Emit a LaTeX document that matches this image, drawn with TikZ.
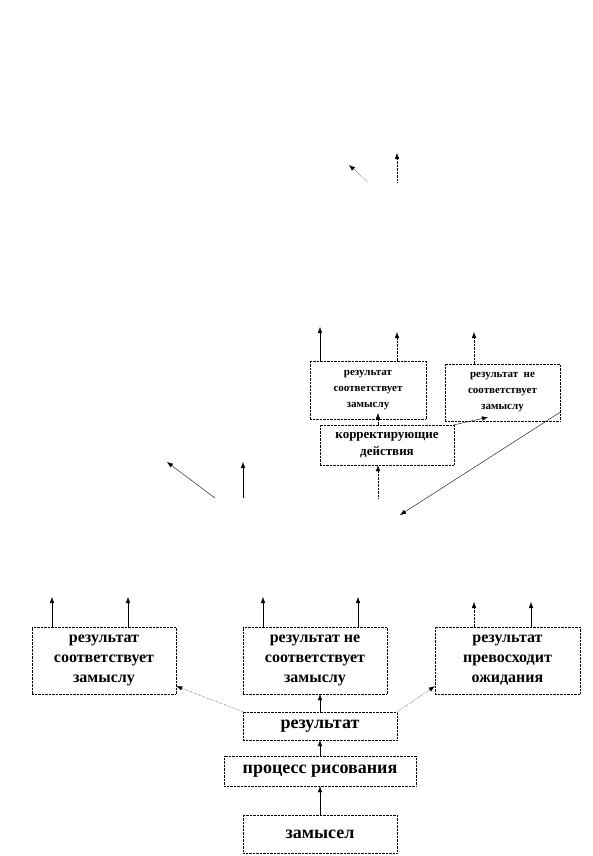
\documentclass[tikz,border=0pt]{standalone}
\usepackage{fontspec}
\setmainfont{Liberation Serif}
\usetikzlibrary{arrows.meta}
\begin{document}
\begin{tikzpicture}[x=1pt, y=-1pt, >={Latex[length=6pt,width=4.5pt]},
    box/.style={draw, densely dotted, thin, inner sep=0pt, align=center, font=\bfseries},
    bigbox/.style={box, font=\fontsize{18}{20}\selectfont\bfseries},
    midbox/.style={box, font=\fontsize{16}{20}\selectfont\bfseries},
    smallbox/.style={box, font=\fontsize{11}{16}\selectfont\bfseries},
    link/.style={->, thin},
    dotlink/.style={->, thin, densely dotted}]
        \useasboundingbox (0,0) rectangle (592,856);

        % Bottom chain
        \node[bigbox, minimum width=154pt, minimum height=38pt] (plan) at (320,834) {замысел};
        \node[bigbox, minimum width=192pt, minimum height=30pt] (drawing) at (320,771) {процесс рисования};
        \node[bigbox, minimum width=154pt, minimum height=28pt] (result) at (320,726) {результат};

        % Three outcomes
        \node[midbox, minimum width=144pt, minimum height=67pt] (match) at (104,660.5) {результат\\соответствует\\замыслу};
        \node[midbox, minimum width=144pt, minimum height=67pt] (nomatch) at (315,660.5) {результат не\\соответствует\\замыслу};
        \node[midbox, minimum width=145pt, minimum height=67pt] (exceed) at (507.5,660.5) {результат\\превосходит\\ожидания};

        % Upper level
        \node[smallbox, minimum width=116pt, minimum height=58pt] (umatch) at (368,390) {результат\\соответствует\\замыслу};
        \node[smallbox, minimum width=115pt, minimum height=57pt] (unomatch) at (502.5,392.5) {результат~~не\\соответствует\\замыслу};
        \node[smallbox, minimum width=134pt, minimum height=40pt, font=\fontsize{13}{17}\selectfont\bfseries] (fix) at (387,445) {корректирующие\\действия};

        % Free ends of the stub arrows
        \coordinate (m1) at (52,597);
        \coordinate (m2) at (128,597);
        \coordinate (n1) at (263,597);
        \coordinate (n2) at (358,597);
        \coordinate (e1) at (474,602);
        \coordinate (e2) at (531,602);
        \coordinate (fixin) at (378,498);
        \coordinate (fixout) at (378,413);
        \coordinate (back) at (400,515);
        \coordinate (um1) at (320,327);
        \coordinate (um2) at (397,332);
        \coordinate (un1) at (474,332);
        \coordinate (a0) at (215,498);
        \coordinate (a1) at (167,462);
        \coordinate (b0) at (243,498);
        \coordinate (b1) at (243,462);
        \coordinate (c0) at (368,182);
        \coordinate (c1) at (349,165);
        \coordinate (d0) at (397,182);
        \coordinate (d1) at (397,153);

        % Bottom connectors
        \draw[link] (plan) -- (drawing);
        \draw[link] (drawing) -- (result);
        \draw[link] (result.north) -- (result.north |- nomatch.south);
        \draw[dotlink] (result.north west) -- ([yshift=8pt]match.south east);
        \draw[dotlink] (result.north east) -- ([yshift=8pt]exceed.south west);

        % Stubs above the outcomes
        \draw[link] (m1 |- match.north) -- (m1);
        \draw[link] (m2 |- match.north) -- (m2);
        \draw[link] (n1 |- nomatch.north) -- (n1);
        \draw[link] (n2 |- nomatch.north) -- (n2);
        \draw[dotlink] (e1 |- exceed.north) -- (e1);
        \draw[link] (e2 |- exceed.north) -- (e2);

        % Middle level
        \draw[link] (a0) -- (a1);
        \draw[link] (b0) -- (b1);
        \draw[dotlink] (fixin) -- (fixin |- fix.south);
        \draw[dotlink] (fixin |- fix.north) -- (fixout);
        \draw[link] (fix.north east) -- ([xshift=-14.5pt,yshift=4pt]unomatch.south);
        \draw[link] ([yshift=9pt]unomatch.south east) -- (back);

        % Stubs above the upper boxes
        \draw[link] (um1 |- umatch.north) -- (um1);
        \draw[dotlink] (um2 |- umatch.north) -- (um2);
        \draw[dotlink] (un1 |- unomatch.north) -- (un1);

        % Top level
        \draw[dotlink] (c0) -- (c1);
        \draw[dotlink] (d0) -- (d1);
\end{tikzpicture}
\end{document}
